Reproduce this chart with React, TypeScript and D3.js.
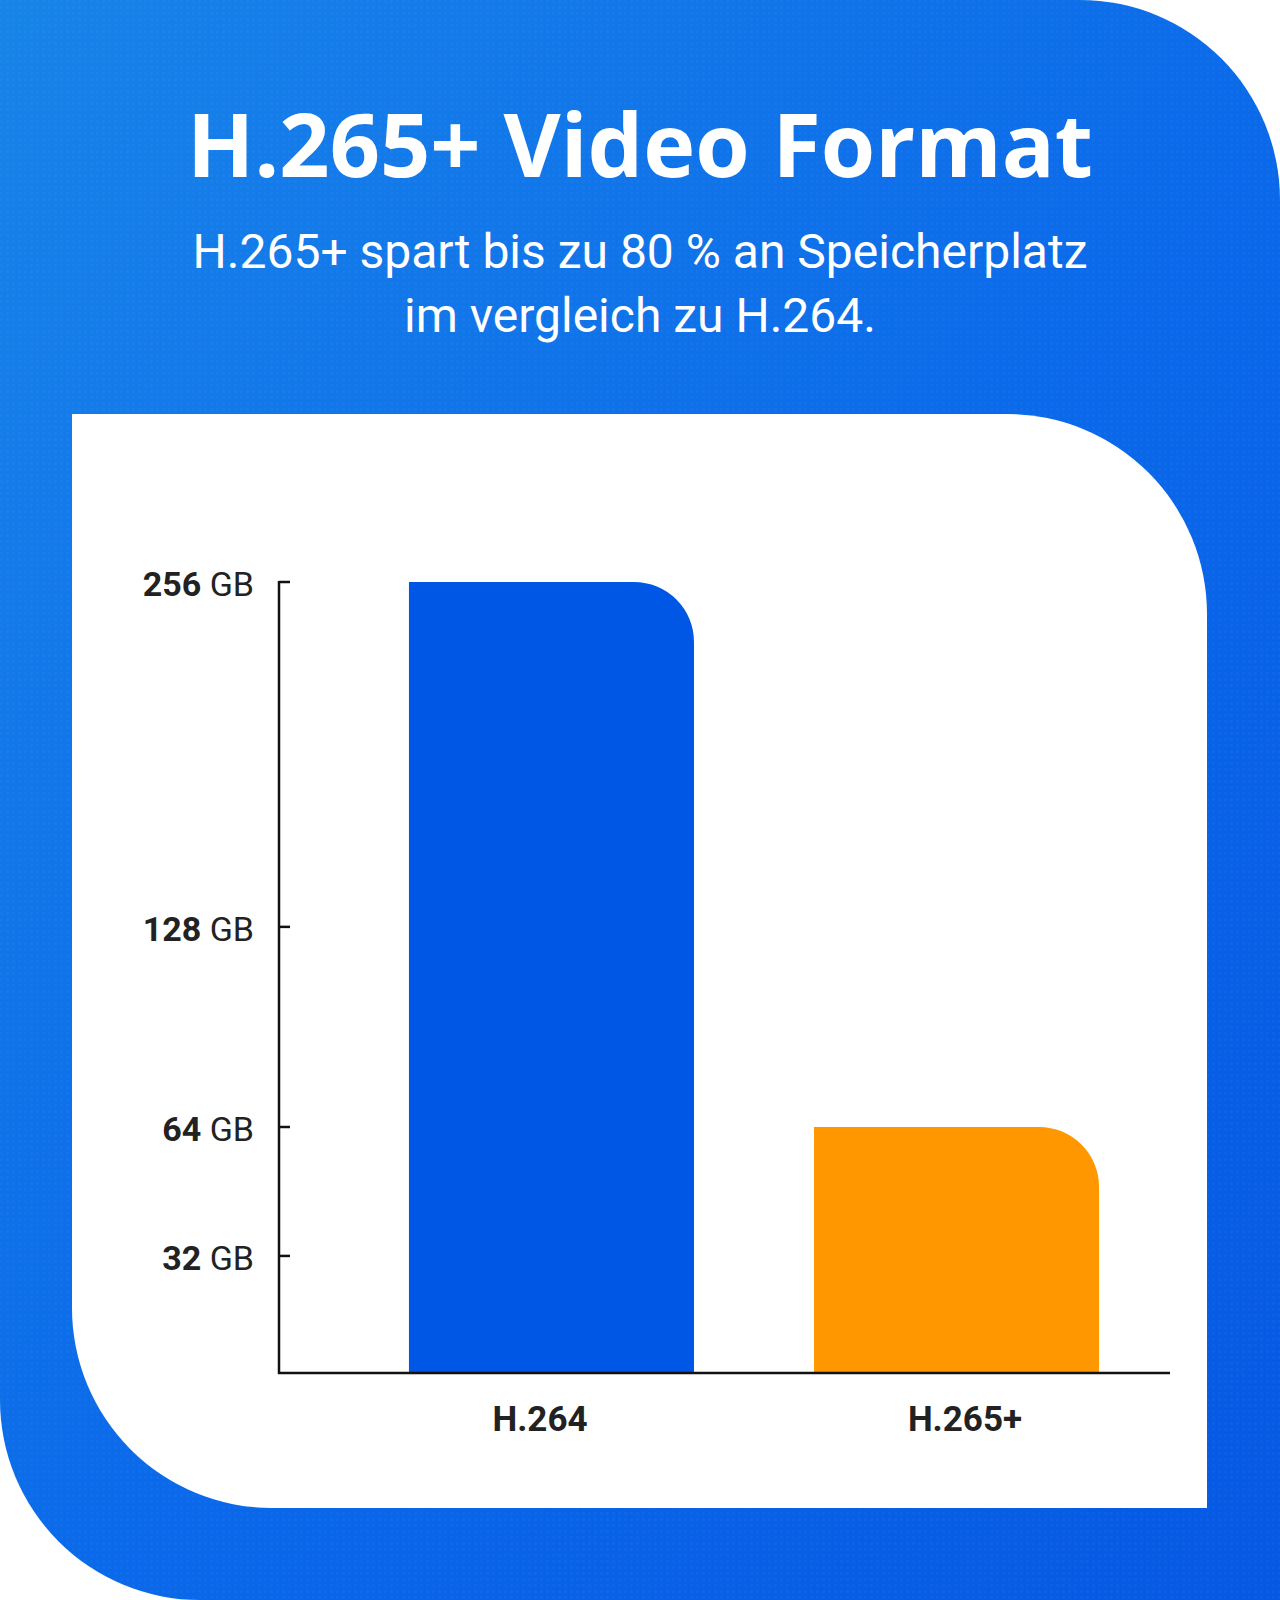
import React from "react";
import * as d3 from "d3";

const categories = ["H.264", "H.265+"];
const values = [256, 64];
const barColors = ["#0057e6", "#ff9800"];
const tickValues = [32, 64, 128, 256];
const tickUnit = "GB";
const title = "H.265+ Video Format";
const subtitleLines = ["H.265+ spart bis zu 80 % an Speicherplatz", "im vergleich zu H.264."];

const W = 1280;
const H = 1600;

function roundedShape(x0: number, y0: number, x1: number, y1: number, r: number) {
  // rounded top-right and bottom-left corners
  const p = d3.path();
  p.moveTo(x0, y0);
  p.lineTo(x1 - r, y0);
  p.arcTo(x1, y0, x1, y0 + r, r);
  p.lineTo(x1, y1);
  p.lineTo(x0 + r, y1);
  p.arcTo(x0, y1, x0, y1 - r, r);
  p.closePath();
  return p.toString();
}

function barPath(x0: number, y0: number, x1: number, y1: number, r: number) {
  const p = d3.path();
  p.moveTo(x0, y1);
  p.lineTo(x0, y0);
  p.lineTo(x1 - r, y0);
  p.arcTo(x1, y0, x1, y0 + r, r);
  p.lineTo(x1, y1);
  p.closePath();
  return p.toString();
}

export default function App() {
  const axisX = 279;
  const axisRight = 1170;
  const baseY = 1373;
  const topY = 582;
  const plotH = baseY - topY;

  // designer's non-uniform value axis, as a piecewise-linear scale
  const y = d3
    .scaleLinear()
    .domain([0, 32, 64, 128, 256])
    .range([baseY, baseY - plotH * 0.148, baseY - plotH * 0.311, baseY - plotH * 0.564, topY]);

  const x = d3
    .scaleBand<string>()
    .domain(categories)
    .range([349, 1159])
    .paddingInner(0.2963)
    .paddingOuter(0.148);

  const xLabel = d3.scalePoint<string>().domain(categories).range([540, 965]);

  return (
    <svg
      width={W}
      height={H}
      viewBox={`0 0 ${W} ${H}`}
      style={{ position: "absolute", left: 0, top: 0, display: "block" }}
    >
      <defs>
        <linearGradient id="bg" x1="0" y1="0" x2="1" y2="1">
          <stop offset="0%" stopColor="#1784e9" />
          <stop offset="55%" stopColor="#0a68ea" />
          <stop offset="100%" stopColor="#0558e4" />
        </linearGradient>
        <pattern id="tex" width="6" height="6" patternUnits="userSpaceOnUse">
          <rect width="6" height="6" fill="transparent" />
          <rect width="3" height="3" fill="#ffffff" opacity="0.025" />
        </pattern>
      </defs>
      <rect width={W} height={H} fill="#ffffff" />
      <path d={roundedShape(0, 0, W, H, 200)} fill="url(#bg)" />
      <path d={roundedShape(0, 0, W, H, 200)} fill="url(#tex)" />

      <text
        x={640}
        y={177}
        textAnchor="middle"
        fill="#ffffff"
        fontFamily="'Open Sans', sans-serif"
        fontWeight={700}
        fontSize={88}
      >
        {title}
      </text>
      {subtitleLines.map((s, i) => (
        <text
          key={i}
          x={640}
          y={268 + i * 64}
          textAnchor="middle"
          fill="#ffffff"
          fontFamily="Roboto, sans-serif"
          fontWeight={400}
          fontSize={48}
        >
          {s}
        </text>
      ))}

      <path d={roundedShape(72, 414, 1207, 1508, 200)} fill="#ffffff" />

      {categories.map((c, i) => (
        <path
          key={c}
          d={barPath(x(c)!, y(values[i]), x(c)! + x.bandwidth(), y(0), 60)}
          fill={barColors[i]}
        />
      ))}

      <line x1={axisX} x2={axisX} y1={topY - 1} y2={baseY + 1} stroke="#111" strokeWidth={2.5} />
      <line x1={axisX - 1} x2={axisRight} y1={baseY} y2={baseY} stroke="#111" strokeWidth={2.5} />
      {tickValues.map((t) => (
        <g key={t}>
          <line x1={axisX} x2={axisX + 11} y1={y(t)} y2={y(t)} stroke="#111" strokeWidth={2.5} />
          <text
            x={254}
            y={y(t) + 14}
            textAnchor="end"
            fill="#222222"
            fontFamily="Roboto, sans-serif"
            fontSize={34}
          >
            <tspan fontWeight={700}>{t}</tspan>
            <tspan fontWeight={400}>{" " + tickUnit}</tspan>
          </text>
        </g>
      ))}
      {categories.map((c) => (
        <text
          key={c}
          x={xLabel(c)}
          y={1431}
          textAnchor="middle"
          fill="#222222"
          fontFamily="Roboto, sans-serif"
          fontWeight={700}
          fontSize={35}
        >
          {c}
        </text>
      ))}
    </svg>
  );
}
